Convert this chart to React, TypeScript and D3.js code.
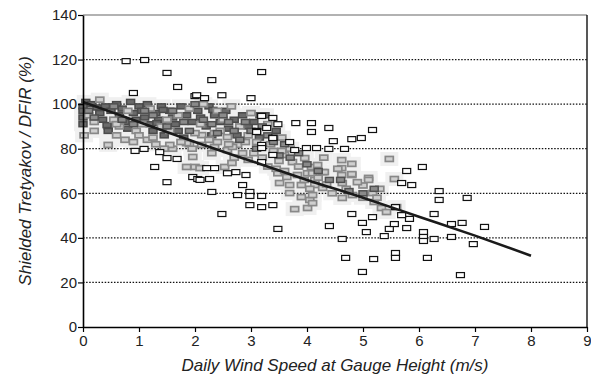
import { useRef, useEffect } from 'react';
import * as d3 from 'd3';

// wind speed (m/s), catch ratio (%)
const openPoints: [number, number][] = [
  [0.77, 119.3], [1.1, 119.8], [1.5, 114], [1.69, 107.7], [2.0, 103.6], [0.9, 105],
  [3.19, 114.4], [2.3, 110.8], [2.03, 104], [2.17, 102.7], [2.48, 104], [3.0, 102.7],
  [3.19, 94.7], [3.39, 93.8], [3.48, 91], [3.8, 91.5], [4.08, 91.5], [4.08, 87.5],
  [3.28, 89.3], [3.1, 88], [3.39, 85], [4.39, 89.3], [5.17, 88.4], [4.47, 83.4],
  [4.8, 84.3], [4.97, 84.8], [4.17, 80.3], [4.39, 79.9], [4.67, 79.9], [5.78, 70],
  [6.06, 71.8], [5.69, 64.6], [5.87, 63.7], [4.8, 50.7], [4.4, 45.3], [4.99, 46.7],
  [5.17, 49.3], [5.06, 42.6], [4.63, 39.5], [5.38, 40.8], [5.47, 44], [5.56, 46.2],
  [5.78, 44.4], [5.83, 48.5], [5.58, 53.8], [5.69, 50.2], [6.08, 42.6], [6.08, 40.4],
  [6.08, 38.6], [4.69, 31], [5.19, 30.5], [5.58, 33.2], [5.58, 31], [4.99, 24.7],
  [6.15, 31], [6.36, 61], [6.36, 57], [6.86, 57.9], [6.27, 50.7], [6.58, 46.2],
  [6.77, 46.7], [7.17, 44.9], [6.58, 40.4], [6.97, 37.2], [6.27, 39.5], [6.74, 23.3],
  [0.93, 79], [1.09, 79.9], [1.37, 78.5], [1.5, 75.8], [1.68, 75.4], [1.28, 71.8],
  [1.5, 65], [1.96, 67.3], [2.05, 66.4], [3.1, 87.5], [3.39, 84.8], [3.19, 81.7],
  [3.19, 80.3], [3.69, 83], [3.78, 79.4], [3.99, 80.3], [3.39, 77.2], [3.19, 74],
  [2.09, 66], [2.26, 66.4], [2.21, 71.3], [2.35, 71.3], [2.58, 69], [2.73, 69.5],
  [2.91, 68.2], [2.85, 63.7], [2.3, 60.6], [2.76, 59.2], [2.98, 60.6], [2.98, 58.8],
  [3.19, 58.8], [2.98, 54.7], [3.19, 53.8], [3.39, 54.7], [2.48, 50.7], [3.48, 44],
];

const grayPoints: [number, number][] = [
  [0.02, 86], [0.45, 81.7], [0.9, 83], [2.0, 71.8], [3.6, 77.2], [3.74, 74],
  [3.96, 75.8], [4.08, 71.8], [3.48, 69], [3.64, 67.3], [3.83, 68.2], [4.01, 69],
  [3.51, 64.6], [3.69, 63.7], [3.9, 63.7], [3.69, 60.1], [3.9, 58.3], [4.05, 57],
  [4.01, 53.4], [3.78, 52.9], [2.12, 86.1], [2.35, 87], [2.58, 85.2], [2.83, 83.9],
  [2.12, 81.7], [2.35, 80.8], [2.58, 79.4], [2.76, 81.7], [2.53, 71.8], [2.66, 73.6],
  [4.1, 69], [4.28, 69.5], [4.62, 68.2], [4.8, 68.2], [4.63, 64.6], [4.14, 63.7],
  [4.28, 62.4], [4.1, 59.2], [4.1, 55.6], [4.63, 57.9], [4.81, 59.2], [5.17, 60.1],
  [5.2, 56.1], [5.33, 53.4], [5.42, 51.6], [5.6, 53.8], [4.62, 74.9], [4.62, 71.3],
  [4.8, 73.2], [4.8, 68.6], [4.31, 69.5], [4.19, 72.7], [4.14, 66], [5.47, 75.4],
  [5.1, 66.9], [5.56, 66.4], [5.1, 66], [0.6, 86], [0.75, 84], [1.15, 84],
  [1.3, 82], [1.6, 80], [1.9, 82], [2.4, 83], [2.9, 83], [3.35, 82], [3.55, 79],
  [1.85, 71.8], [2.09, 71.3], [1.96, 76.3], [1.85, 82.5], [2.67, 80.8], [1.55, 81.7],
  [3.05, 78], [3.3, 72], [2.95, 75], [3.5, 74.5], [4.3, 76], [5.3, 62], [5.0, 63.5],
  [0.1, 95], [0.2, 92], [0.3, 102], [0.55, 93], [0.65, 90], [0.8, 97], [0.95, 88],
  [1.05, 91], [1.2, 98], [1.25, 85], [1.4, 90], [1.5, 93], [1.55, 88], [1.7, 95],
  [1.75, 83], [1.9, 98], [2.0, 87], [2.1, 91], [2.15, 100], [2.25, 84], [2.4, 97],
  [2.45, 88], [2.5, 93], [2.6, 82], [2.65, 99], [2.8, 90], [2.85, 78], [2.95, 86],
  [3.0, 96], [3.1, 83], [3.2, 76], [3.3, 91], [3.4, 79], [3.45, 71], [3.55, 85],
  [3.6, 70], [3.7, 80], [3.85, 72], [3.95, 66], [4.05, 62], [4.2, 67], [4.35, 64],
  [4.45, 60], [4.55, 71], [4.7, 62], [4.9, 65], [5.0, 58], [5.25, 58], [2.7, 76],
  [2.3, 78], [1.95, 80], [0.2, 88], [0.6, 91], [1.0, 86], [1.45, 80],
];

const darkPoints: [number, number][] = [
  [0, 99], [0, 97], [0, 94], [0, 91], [0.05, 101], [0.15, 100], [0.25, 98.5],
  [0.3, 96], [0.35, 93], [0.4, 99], [0.45, 90], [0.5, 97], [0.45, 88], [0.6, 100],
  [0.65, 95], [0.7, 98], [0.75, 92], [0.8, 89], [0.85, 101], [0.9, 96], [0.95, 93],
  [1.0, 99], [1.05, 97], [1.1, 94], [1.15, 100], [1.2, 91], [1.25, 88], [1.3, 96],
  [1.35, 93], [1.4, 99], [1.45, 86], [1.55, 97], [1.6, 94], [1.65, 91], [1.7, 88],
  [1.75, 99], [1.8, 85], [1.85, 95], [1.95, 92], [2.05, 97], [2.1, 94], [2.2, 90],
  [2.25, 99], [2.3, 86], [2.35, 95], [2.45, 92], [2.55, 97], [2.6, 89], [2.7, 93],
  [2.75, 86], [2.85, 95], [2.95, 90], [3.05, 92], [3.15, 85], [3.25, 95], [3.45, 88],
  [0.43, 90.6], [1.32, 91.5], [1.43, 97.4], [2.32, 97.4], [3.16, 95],
];

const darkTopPoints: [number, number][] = [
  [0.1, 97], [0.2, 94], [0.55, 99], [0.7, 93], [0.9, 91], [1.1, 97], [1.25, 95],
  [1.5, 90], [1.6, 97], [1.8, 92], [1.9, 88], [2.0, 100], [2.15, 93], [2.3, 91],
  [2.4, 87], [2.5, 95], [2.6, 92], [2.7, 88], [2.8, 84], [2.9, 92], [3.0, 88],
  [3.1, 80], [3.2, 90], [3.3, 86], [3.4, 83], [3.5, 77], [3.6, 82], [3.7, 76],
  [3.85, 78], [4.0, 73], [4.2, 70], [4.4, 66], [4.6, 66], [4.75, 61], [5.0, 60], [5.2, 62],
];

// fitted curve
const fitX = [0, 1, 2, 3, 4, 5, 6, 7, 8];
const fitY = [101, 92, 83, 74.5, 66, 58, 49.5, 41, 32];

const yTicks = [0, 20, 40, 60, 80, 100, 120, 140];
const xTicks = [0, 1, 2, 3, 4, 5, 6, 7, 8, 9];
const gridVals = [20, 40, 60, 80, 100, 120];

export default function App() {
  const ref = useRef<SVGSVGElement>(null);

  useEffect(() => {
    const svg = d3.select(ref.current);
    svg.selectAll('*').remove();
    const font = '"Liberation Sans", Arial, sans-serif';

    const x = d3.scaleLinear().domain([0, 9]).range([83, 587]);
    const y = d3.scaleLinear().domain([0, 140]).range([327, 15]);
    const sw = 8;
    const sh = 5;

    const squares = (data: [number, number][], fill: string, stroke: string, w: number) =>
      svg
        .append('g')
        .selectAll('rect')
        .data(data)
        .enter()
        .append('rect')
        .attr('x', (d) => x(d[0]) - sw / 2)
        .attr('y', (d) => y(d[1]) - sh / 2)
        .attr('width', sw)
        .attr('height', sh)
        .attr('fill', fill)
        .attr('stroke', stroke)
        .attr('stroke-width', w);

    // faint halo behind the dense cluster
    svg
      .append('g')
      .selectAll('rect')
      .data([...grayPoints, ...darkPoints])
      .enter()
      .append('rect')
      .attr('x', (d) => x(d[0]) - 9)
      .attr('y', (d) => y(d[1]) - 7)
      .attr('width', 18)
      .attr('height', 14)
      .attr('fill', '#f0f0f0');

    svg
      .append('g')
      .selectAll('line')
      .data(gridVals)
      .enter()
      .append('line')
      .attr('x1', x(0))
      .attr('x2', x(9))
      .attr('y1', (d) => y(d))
      .attr('y2', (d) => y(d))
      .attr('stroke', '#111')
      .attr('stroke-width', 1.2)
      .attr('stroke-dasharray', '1.5,1.6');

    squares(darkPoints, '#6a6a6a', '#4a4a4a', 1.5);
    squares(grayPoints, '#cfcfcf', '#888', 1.7);
    squares(darkTopPoints, '#8a8a8a', '#505050', 1.5);
    squares(openPoints, 'white', '#111', 1.2);

    const line = d3
      .line<number>()
      .x((d) => x(d))
      .y((_, i) => y(fitY[i]))
      .curve(d3.curveMonotoneX);
    svg
      .append('path')
      .attr('d', line(fitX))
      .attr('fill', 'none')
      .attr('stroke', '#1a1a1a')
      .attr('stroke-width', 2.6);

    // frame
    svg.append('line').attr('x1', x(0)).attr('x2', x(9)).attr('y1', y(140)).attr('y2', y(140))
      .attr('stroke', '#666').attr('stroke-width', 1.2);
    svg.append('line').attr('x1', x(9)).attr('x2', x(9)).attr('y1', y(140)).attr('y2', y(0))
      .attr('stroke', '#111').attr('stroke-width', 1.4);

    const styleAxis = (s: any) => {
      s.selectAll('path').attr('stroke', '#000').attr('stroke-width', 1.6);
      s.selectAll('line').attr('stroke', '#000').attr('stroke-width', 1.2);
      s.selectAll('text').attr('fill', '#222').style('font-size', '15px').style('font-family', font);
    };

    svg
      .append('g')
      .attr('transform', `translate(${x(0)},0)`)
      .call(d3.axisLeft(y).tickValues(yTicks).tickSize(5).tickSizeOuter(0).tickPadding(1))
      .call(styleAxis);

    svg
      .append('g')
      .attr('transform', `translate(0,${y(0)})`)
      .call(d3.axisBottom(x).tickValues(xTicks).tickSize(5).tickSizeOuter(0).tickPadding(3))
      .call(styleAxis);

    svg
      .append('text')
      .attr('x', (x(0) + x(9)) / 2)
      .attr('y', 371)
      .attr('text-anchor', 'middle')
      .attr('fill', '#222')
      .style('font-family', font)
      .style('font-style', 'italic')
      .style('font-size', '17px')
      .text('Daily Wind Speed at Gauge Height (m/s)');

    svg
      .append('text')
      .attr('transform', `translate(31,${(y(0) + y(140)) / 2}) rotate(-90)`)
      .attr('text-anchor', 'middle')
      .attr('fill', '#222')
      .style('font-family', font)
      .style('font-style', 'italic')
      .style('font-size', '17px')
      .text('Shielded Tretyakov / DFIR (%)');
  }, []);

  return (
    <div style={{ position: 'absolute', left: 0, top: 0, background: 'white' }}>
      <svg ref={ref} width={591} height={374} />
    </div>
  );
}
